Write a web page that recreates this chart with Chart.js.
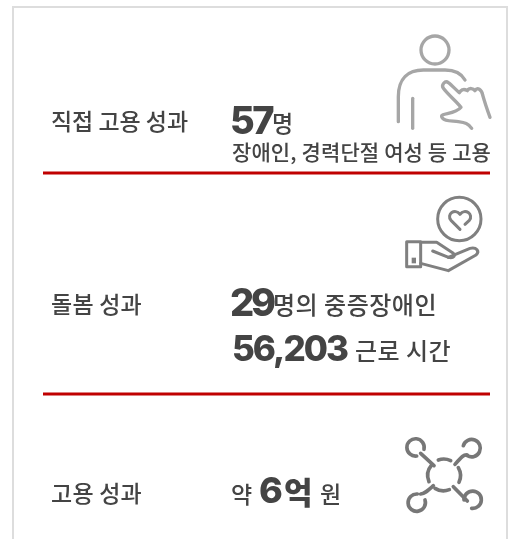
<!DOCTYPE html>
<html lang="ko">
<head>
<meta charset="utf-8">
<script src="https://cdn.jsdelivr.net/npm/chart.js@4"></script>
<style>
    html, body { margin: 0; padding: 0; background: #fff; }
    #box { position: absolute; left: 12px; top: 6px; width: 492px; height: 540px; border: 2px solid #ddd; border-bottom: 0; }
    #wrap { position: absolute; left: 0; top: 0; width: 521px; height: 539px; overflow: hidden; }
    canvas { position: absolute; left: 0; top: 0; }
</style>
</head>
<body>
<div id="wrap">
    <div id="box"></div>
    <canvas id="impactChart" width="521" height="539"></canvas>
</div>
<script>
const rowLabels = ['직접 고용 성과', '돌봄 성과', '고용 성과'];
const rowValues = [57, 29, 6];
const rowUnits = ['명', '명의 중증장애인', '억'];
const directNote = ['장애인, 경력단절 여성 등 고용'];
const careHours = [56203];
const careHoursUnit = ['근로 시간'];
const wagePrefix = ['약'];
const wageSuffix = ['원'];
const dividerRows = [173, 394];

const textColor = '#444444';
const sans = '"Noto Sans CJK KR", "Noto Sans", sans-serif';
const regular = (size) => `500 ${size}px ${sans}`;
const heavy = (size) => `900 ${size}px ${sans}`;
const digits = (size) => `800 ${size}px Inter, ${sans}`;

// text runs: [text, x, baseline, font, target width]
const textRuns = [
    [rowLabels[0], 51, 130, regular(23), 137],
    [String(rowValues[0]), 230, 134, digits(38), 42],
    [rowUnits[0], 272, 132, regular(23), 22],
    [directNote[0], 232, 160, regular(21), 259],
    [rowLabels[1], 51, 313, regular(23), 91],
    [String(rowValues[1]), 230, 316, digits(38), 43],
    [rowUnits[1], 273, 314, regular(24), 164],
    [careHours[0].toLocaleString('en-US'), 232, 361, digits(35), 115],
    [careHoursUnit[0], 355, 360, regular(24), 96],
    [rowLabels[2], 51, 502, regular(23), 91],
    [wagePrefix[0], 231, 503, regular(23), 20],
    [String(rowValues[2]), 259, 503, digits(36), 26],
    [rowUnits[2], 284, 504, heavy(31), 28],
    [wageSuffix[0], 320, 503, regular(23), 22]
];

// icons are traced in 3x local units
const icons = [
    { x: 380, y: 20, color: '#a6a6a6', width: 10, paths: [
        'M207 90A42 42 0 1 1 123 90A42 42 0 1 1 207 90',
        'M55 305V230C55 175 85 150 130 150H195C225 150 245 162 255 180',
        'M98 235V325',
        'M275 325C265 310 255 308 235 305C215 302 190 305 185 290C182 278 225 285 243 262C225 240 205 225 190 205C183 195 195 180 205 188C215 195 228 210 238 218C245 205 255 208 262 212C268 202 280 205 285 212C292 200 305 208 308 225C315 250 322 270 330 292'
    ] },
    { x: 390, y: 185, color: '#808080', width: 9, paths: [
        'M273 102A65 65 0 1 1 143 102A65 65 0 1 1 273 102',
        'M210 133L183 106C168 88 195 68 210 88C225 68 252 88 238 106L225 118',
        'M50 170H92V245H50Z',
        'M92 172H140L190 205C200 215 185 222 170 215L128 198',
        'M175 217L240 190C260 185 270 200 258 210L175 257L92 235'
    ], fills: ['M65 218H78V235H65Z'] },
    { x: 390, y: 425, color: '#777777', width: 11, paths: [
        'M145 105A48 48 0 0 1 182 107',
        'M205 128A48 48 0 0 1 207 172',
        'M178 194A48 48 0 0 1 135 190',
        'M117 170A48 48 0 0 1 125 120',
        'M80 93A26 26 0 1 1 102 73',
        'M92 85L132 122',
        'M220 62A26 26 0 1 1 232 92',
        'M232 90C222 88 215 95 195 118',
        'M105 225A26 26 0 1 1 82 207',
        'M92 207C105 205 112 198 130 182',
        'M222 225A26 26 0 1 1 245 250',
        'M190 185L232 228'
    ] }
];

const staticArt = {
    id: 'staticArt',
    afterDraw(chart) {
        const ctx = chart.ctx;
        ctx.save();
        ctx.textBaseline = 'alphabetic';
        ctx.fillStyle = textColor;
        textRuns.forEach(([text, x, y, font, target]) => {
            ctx.font = font;
            ctx.letterSpacing = '0px';
            const natural = ctx.measureText(text).width;
            ctx.letterSpacing = ((target - natural) / text.length).toFixed(3) + 'px';
            ctx.fillText(text, x, y);
        });
        ctx.letterSpacing = '0px';
        icons.forEach(icon => {
            ctx.save();
            ctx.translate(icon.x, icon.y);
            ctx.scale(1 / 3, 1 / 3);
            ctx.strokeStyle = icon.color;
            ctx.fillStyle = icon.color;
            ctx.lineWidth = icon.width;
            ctx.lineCap = 'round';
            ctx.lineJoin = 'round';
            icon.paths.forEach(d => ctx.stroke(new Path2D(d)));
            (icon.fills || []).forEach(d => ctx.fill(new Path2D(d)));
            ctx.restore();
        });
        ctx.restore();
    }
};

new Chart(document.getElementById('impactChart').getContext('2d'), {
    type: 'scatter',
    data: {
        datasets: dividerRows.map(row => ({
            data: [{ x: 0, y: row }, { x: 1, y: row }],
            showLine: true,
            borderColor: '#c00000',
            borderWidth: 3,
            pointRadius: 0
        }))
    },
    options: {
        responsive: false,
        animation: false,
        layout: { padding: { left: 43, right: 31, top: 0, bottom: 0 } },
        plugins: { legend: { display: false }, tooltip: { enabled: false } },
        scales: {
            x: { type: 'linear', min: 0, max: 1, display: false },
            y: { type: 'linear', min: 0, max: 539, reverse: true, display: false }
        }
    },
    plugins: [staticArt]
});
</script>
</body>
</html>
